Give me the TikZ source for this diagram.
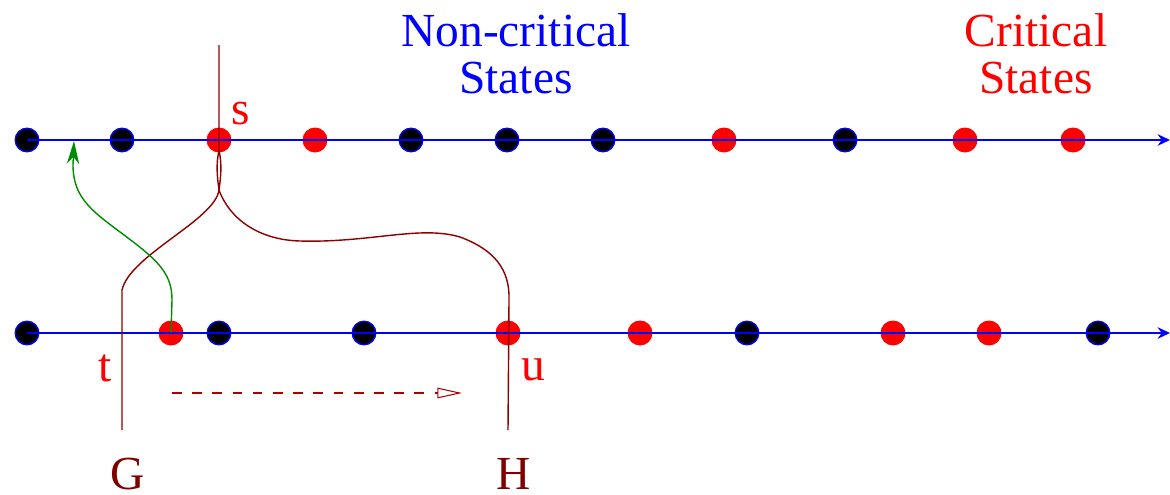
\documentclass[tikz,border=0pt]{standalone}
\usepackage{fontspec}
\setmainfont{Liberation Serif}
\usetikzlibrary{arrows.meta}
\definecolor{darkred}{RGB}{128,0,0}
\definecolor{pathred}{RGB}{140,0,0}
\definecolor{dashred}{RGB}{170,0,0}
\definecolor{arrgreen}{RGB}{0,140,0}

\begin{document}
\begin{tikzpicture}[x=0.02cm,y=-0.02cm,
  crit/.style={circle,inner sep=0pt,minimum size=0.5cm,fill=red},
  noncrit/.style={circle,inner sep=0pt,minimum size=0.47cm,fill=black,draw=blue,line width=0.8pt},
  axis/.style={-{Stealth[length=7pt,width=6.5pt]},draw=blue,line width=1.1pt},
  strand/.style={draw=pathred,line width=0.8pt},
  back/.style={-{Stealth[length=13pt,width=7pt,inset=4pt]},draw=arrgreen,line width=0.8pt},
  moveright/.style={-{Triangle[open,length=14pt,width=6pt]},draw=dashred,line width=0.6pt,dash pattern=on 5.5pt off 6pt},
  big/.style={font=\fontsize{27}{27}\selectfont,inner sep=0pt},
  lbl/.style={big,text=red},
  foot/.style={big,text=darkred}
]
\useasboundingbox (0,0) rectangle (1170,494);

\foreach \x/\s [count=\i] in {27/noncrit,122/noncrit,219/crit,315/crit,411/noncrit,507/noncrit,603/noncrit,724/crit,845/noncrit,965/crit,1073/crit}
  \node[\s] (top\i) at (\x,140) {};
\foreach \x/\s [count=\i] in {27/noncrit,171/crit,219/noncrit,364/noncrit,508/crit,640/crit,747/noncrit,893/crit,989/crit,1098/noncrit}
  \node[\s] (bot\i) at (\x,333) {};

\coordinate (topend) at (1170,140);
\coordinate (botend) at (1170,333);
\draw[axis] (top1.center) -- (topend);
\draw[axis] (bot1.center) -- (botend);

\node[big,text=blue,align=center] (noncritlbl) at (516,54) {Non-critical\\States};
\node[big,text=red,align=center] (critlbl) at (1036,54) {Critical\\States};

\node[lbl] (s) at (241,114) {s};
\node[lbl] (t) at (105,368) {t};
\node[lbl] (u) at (533,370) {u};
\node[foot] (G) at (128,474) {G};
\node[foot] (H) at (514,474) {H};

\coordinate (stop) at (219,45);
\coordinate (split) at (219,150);
\coordinate (gfoot) at (122,430);
\coordinate (hfoot) at (508,430);
\draw[strand] (gfoot) -- (122,290) .. controls (130,255) and (215,220) .. (219,190)
  .. controls (221,175) and (222,165) .. (split) -- (stop);
\draw[strand] (hfoot) -- (509,300) .. controls (510,270) and (495,250) .. (460,237)
  .. controls (420,225) and (370,243) .. (300,241)
  .. controls (260,240) and (230,220) .. (219,190)
  .. controls (217,175) and (216,165) .. (split);

\coordinate (gtip) at (74,141);
\draw[back] (bot2.center) -- (172,300) .. controls (172,275) and (160,262) .. (128,238)
  .. controls (95,213) and (73,200) .. (73,165) -- (gtip);

\coordinate (ds) at (172,393);
\coordinate (de) at (462,393);
\draw[moveright] (ds) -- (de);
\end{tikzpicture}
\end{document}
